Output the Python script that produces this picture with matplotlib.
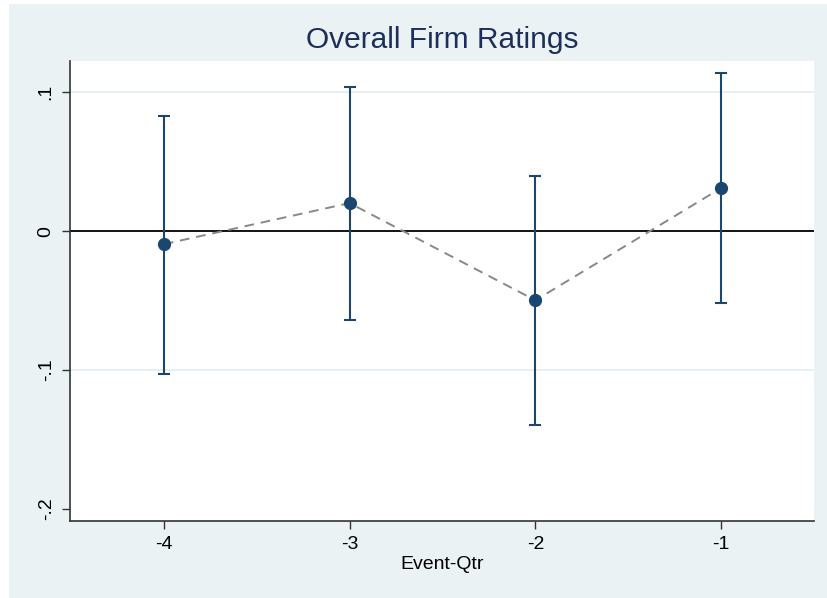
import matplotlib
matplotlib.use("Agg")
import matplotlib.pyplot as plt
from matplotlib.patches import Rectangle

# Event-study coefficients with 95% confidence bounds
event_qtr = [-4, -3, -2, -1]
coef = [-0.0094, 0.0202, -0.0498, 0.0310]
ci_low = [-0.1025, -0.0643, -0.1394, -0.0520]
ci_high = [0.0830, 0.1040, 0.0397, 0.1140]
x_ticks = [-4, -3, -2, -1]
x_tick_labels = ["-4", "-3", "-2", "-1"]
y_ticks = [-0.2, -0.1, 0.0, 0.1]
y_tick_labels = ["-.2", "-.1", "0", ".1"]
grid_levels = [-0.1, 0.1]

navy = "#1A476F"
title_color = "#1C2E5C"
bg = "#EAF2F3"

plt.rcParams["font.family"] = ["Liberation Sans Narrow", "Liberation Sans", "DejaVu Sans"]

W, H = 828, 598
fig = plt.figure(figsize=(W / 100, H / 100), dpi=100)
fig.patch.set_facecolor("white")
fig.patches.append(Rectangle((9 / W, 0), 1 - 9 / W, 1 - 4 / H,
                             transform=fig.transFigure, facecolor=bg,
                             edgecolor="none", zorder=-10))

left, right, top, bottom = 70, 814, 61, 521
ax = fig.add_axes([left / W, 1 - bottom / H, (right - left) / W, (bottom - top) / H])
ax.set_facecolor("white")

ax.set_xlim(-4.505, -0.5)
ax.set_ylim(-0.2087, 0.1225)

for yv in grid_levels:
    ax.axhline(yv, color="#E4ECF0", lw=1.2, zorder=1)
ax.axhline(0, color="black", lw=1.3, zorder=2)

yerr = [[c - lo for c, lo in zip(coef, ci_low)], [hi - c for c, hi in zip(coef, ci_high)]]
ax.errorbar(event_qtr, coef, yerr=yerr, fmt="none", ecolor=navy,
            elinewidth=1.5, capsize=4.5, capthick=1.5, zorder=3)
ax.plot(event_qtr, coef, ls=(0, (5, 3.5)), color="#888888", lw=1.4, zorder=4)
ax.plot(event_qtr, coef, ls="none", marker="o", ms=8.5, color=navy, zorder=5)

for side in ("top", "right"):
    ax.spines[side].set_visible(False)
for side in ("left", "bottom"):
    ax.spines[side].set_color("#333333")
    ax.spines[side].set_linewidth(1.2)

ax.set_xticks(x_ticks)
ax.set_xticklabels(x_tick_labels, fontsize=14)
ax.set_yticks(y_ticks)
ax.set_yticklabels(y_tick_labels, fontsize=14, rotation=90, va="center")
ax.tick_params(axis="both", length=6, width=1, color="#333333", pad=5)

ax.set_xlabel("Event-Qtr", fontsize=14, labelpad=2)
fig.text((left + right) / 2 / W, 1 - 40 / H, "Overall Firm Ratings",
         ha="center", va="center", fontsize=21.5, color=title_color)

fig.savefig("out.png", dpi=100, facecolor=fig.get_facecolor())
